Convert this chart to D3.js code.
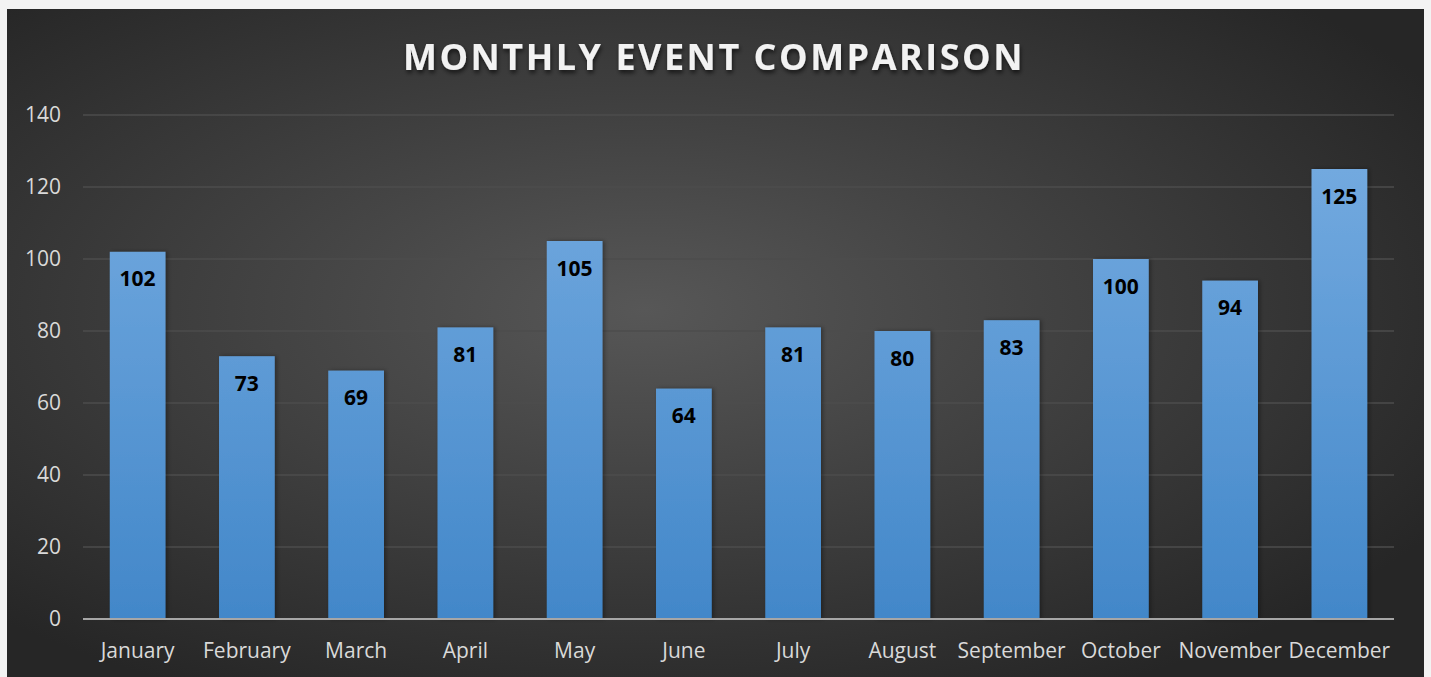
<!DOCTYPE html>
<html>
<head>
<meta charset="utf-8">
<script src="https://cdn.jsdelivr.net/npm/d3@7"></script>
<style>
  html, body { margin: 0; padding: 0; background: #f3f3f3; }
  svg { display: block; }
</style>
</head>
<body>
<svg id="chart" width="1431" height="677"></svg>
<script>
"use strict";

var months = ["January", "February", "March", "April", "May", "June",
	"July", "August", "September", "October", "November", "December"];
var events = [102, 73, 69, 81, 105, 64, 81, 80, 83, 100, 94, 125];
var yTicks = [0, 20, 40, 60, 80, 100, 120, 140];
var title = "MONTHLY EVENT COMPARISON";

var svg = d3.select("#chart");
var defs = svg.append("defs");

// background gradient, lighter around the middle
var bg = defs.append("radialGradient")
	.attr("id", "bg-grad")
	.attr("cx", "45%").attr("cy", "45%").attr("r", "65%");
bg.append("stop").attr("offset", "0%").attr("stop-color", "#575757");
bg.append("stop").attr("offset", "100%").attr("stop-color", "#262626");

var barGrad = defs.append("linearGradient")
	.attr("id", "bar-grad")
	.attr("gradientUnits", "userSpaceOnUse")
	.attr("x1", 0).attr("y1", 170).attr("x2", 0).attr("y2", 619);
barGrad.append("stop").attr("offset", "0%").attr("stop-color", "#72a9df");
barGrad.append("stop").attr("offset", "100%").attr("stop-color", "#4287c9");

var shadow = defs.append("filter").attr("id", "title-shadow")
	.attr("x", "-5%").attr("y", "-20%").attr("width", "110%").attr("height", "150%");
shadow.append("feDropShadow")
	.attr("dx", 1).attr("dy", 3).attr("stdDeviation", 2)
	.attr("flood-color", "#000").attr("flood-opacity", 0.6);

var barShadow = defs.append("filter").attr("id", "bar-shadow")
	.attr("x", "-20%").attr("y", "-5%").attr("width", "140%").attr("height", "110%");
barShadow.append("feDropShadow")
	.attr("dx", 2).attr("dy", 0).attr("stdDeviation", 2)
	.attr("flood-color", "#000").attr("flood-opacity", 0.35);

svg.append("rect")
	.attr("x", 7).attr("y", 9)
	.attr("width", 1417).attr("height", 668)
	.attr("fill", "url(#bg-grad)");

var margin = {left: 83, right: 1394, top: 115, bottom: 619};

var x = d3.scaleBand()
	.domain(months)
	.range([margin.left, margin.right])
	.paddingInner(0.49)
	.paddingOuter(0.245);

var y = d3.scaleLinear()
	.domain([0, 140])
	.range([margin.bottom, margin.top]);

// gridlines
svg.append("g")
	.selectAll("line")
	.data(yTicks.filter(function(d) { return d > 0; }))
	.enter().append("line")
		.attr("x1", margin.left).attr("x2", margin.right)
		.attr("y1", function(d) { return y(d); })
		.attr("y2", function(d) { return y(d); })
		.attr("stroke", "#4d4d4d")
		.attr("stroke-width", 1.5);

// y axis labels
var yAxis = d3.axisLeft(y).tickValues(yTicks).tickSize(0).tickPadding(0);
var yg = svg.append("g")
	.attr("transform", "translate(61,0)")
	.call(yAxis);
yg.select(".domain").remove();
yg.selectAll("text")
	.attr("fill", "#d9d9d9")
	.style("font-family", "'Open Sans', sans-serif")
	.style("font-size", "21px");

// bars
svg.append("g")
	.selectAll("rect")
	.data(events)
	.enter().append("rect")
		.attr("x", function(d, i) { return x(months[i]); })
		.attr("y", function(d) { return y(d); })
		.attr("width", x.bandwidth())
		.attr("height", function(d) { return y(0) - y(d); })
		.attr("fill", "url(#bar-grad)")
		.attr("filter", "url(#bar-shadow)");

// zero line
svg.append("line")
	.attr("x1", margin.left).attr("x2", margin.right)
	.attr("y1", y(0)).attr("y2", y(0))
	.attr("stroke", "#a6a6a6")
	.attr("stroke-width", 2);

// value labels
svg.append("g")
	.selectAll("text")
	.data(events)
	.enter().append("text")
		.attr("x", function(d, i) { return x(months[i]) + x.bandwidth() / 2; })
		.attr("y", function(d) { return y(d) + 29; })
		.attr("text-anchor", "middle")
		.attr("dominant-baseline", "middle")
		.attr("fill", "#000")
		.style("font-family", "'Open Sans', sans-serif")
		.style("font-weight", "bold")
		.style("font-size", "21px")
		.text(function(d) { return d; });

// x axis labels
var xAxis = d3.axisBottom(x).tickSize(0).tickPadding(0);
var xg = svg.append("g")
	.attr("transform", "translate(0," + (y(0) + 24) + ")")
	.call(xAxis);
xg.select(".domain").remove();
xg.selectAll("text")
	.attr("fill", "#d9d9d9")
	.style("font-family", "'Open Sans', sans-serif")
	.style("font-size", "21px");

// title
svg.append("text")
	.attr("x", 714)
	.attr("y", 70)
	.attr("text-anchor", "middle")
	.attr("fill", "#f2f2f2")
	.attr("filter", "url(#title-shadow)")
	.style("font-family", "'Open Sans', sans-serif")
	.style("font-weight", "bold")
	.style("font-size", "36px")
	.style("letter-spacing", "2.5px")
	.text(title);
</script>
</body>
</html>
